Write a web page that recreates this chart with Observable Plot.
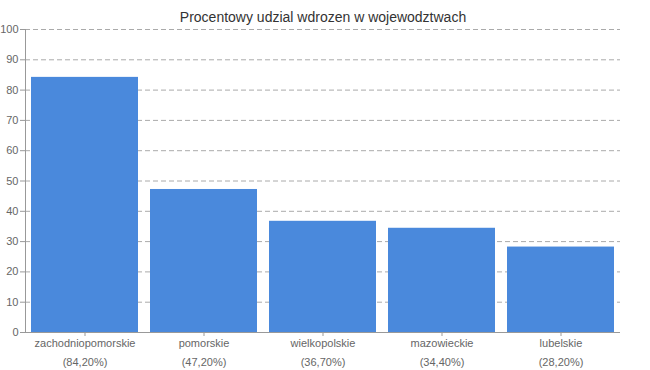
<!DOCTYPE html>
<html>
<head>
<meta charset="utf-8">
<script src="https://cdn.jsdelivr.net/npm/d3@7"></script>
<script src="https://cdn.jsdelivr.net/npm/@observablehq/plot@0.6"></script>
<style>
  body { margin: 0; background: #fff; }
</style>
</head>
<body>
<div id="chart"></div>
<script>
const title = "Procentowy udzial wdrozen w wojewodztwach";
const categories = ["zachodniopomorskie", "pomorskie", "wielkopolskie", "mazowieckie", "lubelskie"];
const values = [84.2, 47.2, 36.7, 34.4, 28.2];
const yTicks = [0, 10, 20, 30, 40, 50, 60, 70, 80, 90, 100];

const data = categories.map((c, i) => ({category: c, value: values[i]}));
const pct = new Map(data.map(d => [d.category, "(" + d.value.toFixed(2).replace(".", ",") + "%)"]));

const chart = Plot.plot({
  width: 650,
  height: 370,
  marginTop: 29,
  marginBottom: 38,
  marginLeft: 25,
  marginRight: 30,
  style: {fontFamily: "Liberation Sans, Arial, sans-serif", fontSize: "11px", color: "#666", background: "#fff"},
  x: {type: "band", domain: categories, paddingInner: 0.1, paddingOuter: 0.05, label: null},
  y: {domain: [0, 100], label: null},
  marks: [
    Plot.gridY(yTicks.filter(t => t > 0), {stroke: "#aaa", strokeOpacity: 1, strokeDasharray: "5,3"}),
    Plot.barY(data, {x: "category", y: "value", fill: "#4a89dc"}),
    Plot.ruleY([0], {stroke: "#999"}),
    Plot.frame({anchor: "left", stroke: "#999"}),
    Plot.axisY(yTicks, {tickSize: 5, tickPadding: 2, stroke: "#999", fill: "#666", fontSize: 11, label: null}),
    Plot.axisX(categories, {tickSize: 4, tickPadding: 3, stroke: "#999", fill: "#666", fontSize: 11, label: null}),
    Plot.axisX(categories, {tickSize: 0, tickPadding: 26, fill: "#666", fontSize: 11, label: null, tickFormat: d => pct.get(d)}),
    Plot.text([title], {frameAnchor: "top", dy: -17, fill: "#333", fontSize: 14, text: d => d})
  ]
});
document.getElementById("chart").append(chart);
</script>
</body>
</html>
